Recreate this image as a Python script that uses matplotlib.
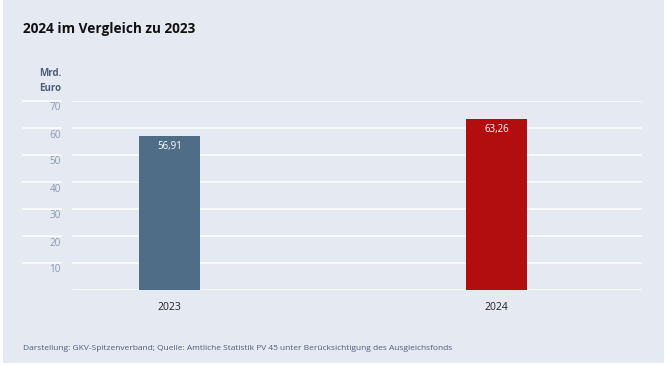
import matplotlib.pyplot as plt
from matplotlib.patches import Rectangle
from matplotlib import transforms

plt.rcParams['font.family'] = ['Open Sans', 'DejaVu Sans']

# data
years = ['2023', '2024']
values = [56.91, 63.26]
value_labels = ['56,91', '63,26']
bar_colors = ['#4f6d87', '#b20e10']
yticks = [10, 20, 30, 40, 50, 60, 70]

W, H = 667, 367
bg = '#e5e9f2'

fig = plt.figure(figsize=(W / 100, H / 100), dpi=100)
fig.patch.set_facecolor('white')
fig.patches.append(Rectangle((3 / W, 4 / H), 661 / W, 1 - 4 / H,
                             transform=fig.transFigure, facecolor=bg,
                             edgecolor='none', zorder=-5))

# axes: x 72..642 px, y 101..290 px
ax = fig.add_axes([72 / W, 1 - 290 / H, 570 / W, 189 / H])
ax.set_facecolor('none')
ax.set_xlim(-0.298, 1.445)
ax.set_ylim(0, 70)
for s in ax.spines.values():
    s.set_visible(False)
ax.set_yticks([])
ax.set_xticks([])

# grid lines, including baseline
for v in [0] + yticks:
    ax.axhline(v, color='white', lw=1.1, zorder=1)

# left tick segments and labels
blend = transforms.blended_transform_factory(fig.transFigure, ax.transData)
lab_off = transforms.offset_copy(blend, fig=fig, x=0, y=-7, units='dots')
for v in yticks:
    ax.plot([23 / W, 61 / W], [v, v], color='white', lw=1.1,
            transform=blend, clip_on=False)
    ax.text(61 / W, v, str(v), transform=lab_off, ha='right', va='center',
            fontsize=7.2, color='#8a9bb0')

fig.text(61 / W, 1 - 81 / H, 'Mrd.\nEuro', ha='right', va='center',
         multialignment='right', fontsize=7, fontweight='bold',
         color='#4a5f7a', linespacing=1.55)

x = list(range(len(years)))
ax.bar(x, values, width=0.1865, color=bar_colors, zorder=2)
top_off = transforms.offset_copy(ax.transData, fig=fig, x=0, y=-10, units='dots')
for xi, v, lab in zip(x, values, value_labels):
    ax.text(xi, v, lab, transform=top_off, ha='center', va='center',
            fontsize=7, color='white', zorder=3)

xl_blend = transforms.blended_transform_factory(ax.transData, fig.transFigure)
for xi, yr in zip(x, years):
    ax.text(xi, 1 - 307 / H, yr, transform=xl_blend, ha='center', va='center',
            fontsize=7.5, color='#222222')

fig.text(23 / W, 1 - 29 / H, '2024 im Vergleich zu 2023', ha='left',
         va='center', fontsize=9.8, fontweight='bold', color='#111111')
fig.text(23 / W, 1 - 348 / H,
         'Darstellung: GKV-Spitzenverband; Quelle: Amtliche Statistik PV 45 '
         'unter Berücksichtigung des Ausgleichsfonds',
         ha='left', va='center', fontsize=6.05, color='#4a5f7a')

fig.savefig('out.png', dpi=100, facecolor=fig.get_facecolor())
